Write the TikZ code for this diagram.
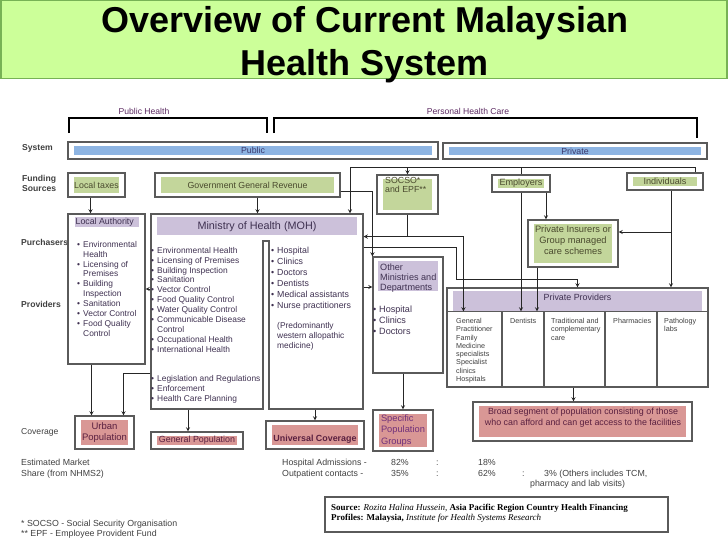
\documentclass[tikz,border=0pt]{standalone}
\usepackage{fontspec}
\setmainfont{Liberation Sans}
\newfontfamily\srcfont{Liberation Serif}
\usetikzlibrary{calc}

\definecolor{ttlgreen}{HTML}{CCFF99}
\definecolor{ttledge}{HTML}{77B255}
\definecolor{barblue}{HTML}{8DB4E2}
\definecolor{fundgreen}{HTML}{C3D69B}
\definecolor{buyviolet}{HTML}{CCC1DA}
\definecolor{covpink}{HTML}{D99795}
\definecolor{edge}{HTML}{5A5A5A}
\definecolor{inkviolet}{HTML}{3F3151}
\definecolor{inkolive}{HTML}{4A4A2E}
\definecolor{inkgrey}{HTML}{404040}
\definecolor{inkblue}{HTML}{3C3A6E}
\definecolor{inkplum}{HTML}{5A2040}
\definecolor{inkpurple}{HTML}{70307A}
\definecolor{labviolet}{HTML}{5C2A62}

\newcommand{\setfs}[2]{\fontsize{#1}{#2}\selectfont}
\newcommand{\lbul}{\makebox[6pt][l]{\textbullet}}
\newcommand{\lgap}{\hspace*{6pt}}

\begin{document}
\begin{tikzpicture}[x=1pt, y=-1pt,
  box/.style={draw=edge, line width=1.1pt, fill=white, inner sep=0pt},
  inset/.style={box, path picture={\fill[#1] ([shift={(6pt,-4pt)}]path picture bounding box.north west) rectangle ([shift={(-6pt,4pt)}]path picture bounding box.south east);}},
  arr/.style={-stealth, line width=0.9pt, draw=black!85},
  wire/.style={line width=0.9pt, draw=black!85},
  rowlab/.style={anchor=base west, inner sep=0pt, font=\bfseries\setfs{8.6}{10.5}, text=inkgrey},
  list/.style={anchor=north west, inner sep=0pt, align=left, font=\setfs{8.4}{9.9}, text=inkviolet},
  col/.style={anchor=north west, inner sep=0pt, align=left, font=\setfs{7.2}{8.3}, text=inkgrey},
  note/.style={anchor=base west, inner sep=0pt, font=\setfs{8.8}{11}, text=inkgrey}]
  \useasboundingbox (0,0) rectangle (728,546);

  % Title banner
  \node[box, draw=ttledge, fill=ttlgreen, minimum width=726, minimum height=78] (ttlbox) at (364,39.5) {};
  \node[inner sep=0pt, align=center, font=\bfseries\setfs{36}{43}] (ttl) at (365,45) {Overview of Current Malaysian\\Health System};

  % Brackets over the two sectors
  \node[anchor=base, inner sep=0pt, font=\setfs{8.6}{10}, text=labviolet] (phl) at (144,114) {Public Health};
  \node[anchor=base, inner sep=0pt, font=\setfs{8.6}{10}, text=labviolet] (pcl) at (468,114) {Personal Health Care};
  \draw[line width=1.1pt] (69,133) -- (69,118) -- (267,118) -- (267,133);
  \draw[line width=1.1pt] (274,133) -- (274,118) -- (697,118) -- (697,138);

  % Row labels
  \node[rowlab] (sysl) at (22,150) {System};
  \node[rowlab, anchor=north west, align=left] (fndl) at (22,175) {Funding\\Sources};
  \node[rowlab] (purl) at (21,245) {Purchasers};
  \node[rowlab] (prol) at (21,307) {Providers};
  \node[rowlab, font=\setfs{8.6}{10.5}] (covl) at (21,434) {Coverage};

  % System bars
  \node[inset=barblue, minimum width=370, minimum height=17, text=inkblue, font=\setfs{8.8}{10}] (pub) at (253,150.5) {Public};
  \node[inset=barblue, minimum width=264, minimum height=16, text=inkblue, font=\setfs{8.8}{10}] (pri) at (575,151) {Private};

  % Funding sources
  \node[inset=fundgreen, minimum width=57, minimum height=24, text=inkolive, font=\setfs{8.8}{10}] (tax) at (96.5,185) {Local taxes};
  \node[inset=fundgreen, minimum width=185, minimum height=24, text=inkolive, font=\setfs{8.8}{10}] (ggr) at (247.5,185) {Government General Revenue};
  \node[inset=fundgreen, minimum width=61, minimum height=39] (socso) at (407.5,194.5) {};
  \node[anchor=north west, inner sep=0pt, align=left, text=inkolive, font=\setfs{8.8}{9}] (socsot) at (385,177.5) {SOCSO*\\and EPF**};
  \node[inset=fundgreen, minimum width=58, minimum height=17, text=inkolive, font=\setfs{9.1}{10}] (empl) at (521,183.5) {Employers};
  \node[inset=fundgreen, minimum width=76, minimum height=17, text=inkolive, font=\setfs{9.1}{10}] (indiv) at (665,181.5) {Individuals};
  \node[inset=fundgreen, minimum width=90, minimum height=47] (ins) at (573,243.5) {};
  \node[inner sep=0pt, align=center, text=inkolive, font=\setfs{9.3}{11}] (inst) at (573,240) {Private Insurers or\\Group managed\\care schemes};

  % Local Authority
  \node[box, minimum width=77, minimum height=150] (la) at (106.5,289) {};
  \fill[buyviolet] ([shift={(8pt,-4pt)}]la.north west) rectangle ([shift={(-7pt,-14pt)}]la.north east);
  \node[anchor=west, inner sep=0pt, text=inkviolet, font=\setfs{8.8}{10}] (lat) at ([shift={(8pt,-9pt)}]la.north west) {Local Authority};
  \node[list] (lal) at (77,241) {\lbul Environmental\\\lgap Health\\\lbul Licensing of\\\lgap Premises\\\lbul Building\\\lgap Inspection\\\lbul Sanitation\\\lbul Vector Control\\\lbul Food Quality\\\lgap Control};

  % Ministry of Health, with the slot between its two columns
  \node[box, minimum width=212, minimum height=195] (moh) at (257,311.5) {};
  \fill[white] (263,241) rectangle (269,411);
  \draw[draw=edge, line width=1.1pt] (263,409.5) -- (263,241) -- (269,241) -- (269,409.5);
  \fill[buyviolet] ([shift={(7pt,-4pt)}]moh.north west) rectangle ([shift={(-7pt,-22pt)}]moh.north east);
  \node[inner sep=0pt, text=inkviolet, font=\setfs{10.8}{12}] (moht) at ([yshift=-13]moh.north) {Ministry of Health (MOH)};
  \node[list] (mohpa) at (151,247) {\lbul Environmental Health\\\lbul Licensing of Premises\\\lbul Building Inspection\\\lbul Sanitation\\\lbul Vector Control\\\lbul Food Quality Control\\\lbul Water Quality Control\\\lbul Communicable Disease\\\lgap Control\\\lbul Occupational Health\\\lbul International Health};
  \node[list] (mohpb) at (151,375) {\lbul Legislation and Regulations\\\lbul Enforcement\\\lbul Health Care Planning};
  \node[list, font=\setfs{8.8}{11}] (mohcare) at (271,247) {\lbul Hospital\\\lbul Clinics\\\lbul Doctors\\\lbul Dentists\\\lbul Medical assistants\\\lbul Nurse practitioners};
  \node[list, font=\setfs{8.4}{10}] (mohnote) at (277,322) {(Predominantly\\western allopathic\\medicine)};

  % Other ministries
  \node[box, minimum width=70, minimum height=116] (om) at (408,315) {};
  \fill[buyviolet] ([shift={(6pt,-5pt)}]om.north west) rectangle ([shift={(-6pt,-35pt)}]om.north east);
  \node[list, font=\setfs{9.1}{10}] (omt) at (380,263.5) {Other\\Ministries and\\Departments};
  \node[list, font=\setfs{9.1}{11}] (oml) at (373,306) {\lbul Hospital\\\lbul Clinics\\\lbul Doctors};

  % Private providers and their five columns
  \node[box, minimum width=261, minimum height=99] (pp) at (577.5,337.5) {};
  \coordinate (ppsub) at ([yshift=-24]pp.north);
  \fill[buyviolet] ([shift={(7pt,-4pt)}]pp.north west) rectangle ([shift={(-7pt,-24pt)}]pp.north east);
  \draw[draw=edge, line width=1.1pt] (ppsub -| pp.west) -- (ppsub -| pp.east);
  \foreach \cx in {502,544,605,657} {
    \draw[draw=edge, line width=1.1pt] (\cx,312) -- (\cx,387); % column rules
  }
  \node[inner sep=0pt, text=inkviolet, font=\setfs{8.9}{10}] (ppt) at ([yshift=-10]pp.north) {Private Providers};
  \node[col] (ppgp) at (456,318) {General\\Practitioner\\Family\\Medicine\\specialists\\Specialist\\clinics\\Hospitals};
  \node[col] (ppden) at (510,318) {Dentists};
  \node[col] (pptrad) at (551,318) {Traditional and\\complementary\\care};
  \node[col] (ppphar) at (613,318) {Pharmacies};
  \node[col] (pppath) at (664,318) {Pathology\\labs};

  % Coverage
  \node[inset=covpink, minimum width=59, minimum height=33, align=center, text=inkplum, font=\setfs{9.5}{10.5}] (urban) at (104.5,432.5) {Urban\\Population};
  \node[inset=covpink, minimum width=92, minimum height=17, text=inkplum, font=\setfs{8.9}{10}] (genpop) at (197,440.5) {General Population};
  \node[inset=covpink, minimum width=98, minimum height=28] (univ) at (315,435) {};
  \node[inner sep=0pt, text=inkplum, font=\bfseries\setfs{8.9}{10}] (univt) at (315,439) {Universal Coverage};
  \node[inset=covpink, minimum width=60, minimum height=41, align=left, text=inkpurple, font=\setfs{9.3}{11.5}] (spec) at (403,430.5) {Specific\\Population\\Groups};
  \node[inset=covpink, minimum width=219, minimum height=39] (broad) at (582.5,421.5) {};
  \node[inner sep=0pt, align=center, text=inkplum, font=\setfs{8.9}{11}] (broadt) at (583,417.5) {Broad segment of population consisting of those\\who can afford and can get access to the facilities};

  % Funding flows
  \coordinate (fundrail) at ([yshift=-8]pri.south);
  \draw[arr] ([xshift=-6]tax.south) -- ([xshift=-6]tax.south |- la.north);
  \draw[arr] ([xshift=10]ggr.south) -- ([xshift=10]ggr.south |- moh.north);
  \draw[arr] ([yshift=-6]ggr.east) -| (om.north west);
  \draw[arr] ([xshift=30]indiv.north) -- ([xshift=30]indiv.north |- fundrail) -- ([xshift=93]moh.north |- fundrail) -- ([xshift=93]moh.north);
  \draw[arr] (socso.north |- fundrail) -- (socso.north);
  \draw[wire] (empl.north |- fundrail) -- (empl.north);
  \draw[arr] (empl.south) -- (empl.south |- ppsub);
  \draw[arr] ([xshift=25]empl.south) -- ([xshift=25]empl.south |- ins.north);
  \coordinate (insin) at ([yshift=11.5]ins.east);
  \draw[arr] ([xshift=6]indiv.south) -- ([xshift=6]indiv.south |- pp.north);
  \draw[arr] ([xshift=6]indiv.south |- insin) -- (insin);
  \draw[arr] ([xshift=-36]ins.south) -- ([xshift=-36]ins.south |- ppsub);

  % SOCSO/EPF to MOH and to general practitioners
  \coordinate (sockj) at ($(socso.south)+(0,22)$);
  \draw[wire] (socso.south) -- (sockj);
  \draw[arr] (sockj) -- (sockj -| moh.east);
  \draw[arr] (sockj) -| ([xshift=17]pp.west |- ppsub);

  % Purchasers to providers
  \coordinate (mohout) at ([yshift=64.5]moh.east);
  \draw[arr] (mohout) -- ++(93,0) -- ++(0,32) -| (pp.north);
  \draw[arr] ([yshift=28]om.west -| moh.east) -- ([yshift=28]om.west);
  \draw[arr] (la.east -| moh.west) -- (la.east);

  % Providers to coverage
  \draw[arr] ([xshift=-15]la.south) -- ([xshift=-15]la.south |- urban.north);
  \draw[arr] ([yshift=-61.5]moh.west) -| ([xshift=19]urban.north);
  \draw[arr] ([xshift=-69]moh.south) -- ([xshift=-69]moh.south |- genpop.north);
  \draw[arr] (univ.north |- moh.south) -- (univ.north);
  \draw[arr] (spec.north |- om.south) -- (spec.north);
  \draw[arr] ([xshift=-4]pp.south) -- ([xshift=-4]pp.south |- broad.north);

  % Market share
  \node[note, anchor=north west, align=left] (share) at (21,459) {Estimated Market\\Share (from NHMS2)};
  \node[note] (hadm) at (282,465) {Hospital Admissions -};
  \node[note] (hadm1) at (391,465) {82\%};
  \node[note] (hsep1) at (436,465) {:};
  \node[note] (hadm2) at (478,465) {18\%};
  \node[note] (opc) at (282,476) {Outpatient contacts -};
  \node[note] (opc1) at (391,476) {35\%};
  \node[note] (osep1) at (436,476) {:};
  \node[note] (opc2) at (478,476) {62\%};
  \node[note] (osep2) at (522,476) {:};
  \node[note] (opc3) at (544,476) {3\% (Others includes TCM,};
  \node[note] (opc4) at (530,486) {pharmacy and lab visits)};

  % Footnotes and source
  \node[note] (fn1) at (21,526) {* SOCSO - Social Security Organisation};
  \node[note] (fn2) at (21,536) {** EPF - Employee Provident Fund};
  \node[box, minimum width=343, minimum height=35] (src) at (496.5,514.5) {};
  \node[anchor=north west, inner sep=0pt, align=left, font=\srcfont\setfs{9}{10}] (srct) at (331,503.5) {\textbf{Source:} \textit{Rozita Halina Hussein,} \textbf{Asia Pacific Region Country Health Financing}\\\textbf{Profiles: Malaysia,} \textit{Institute for Health Systems Research}};
\end{tikzpicture}
\end{document}
